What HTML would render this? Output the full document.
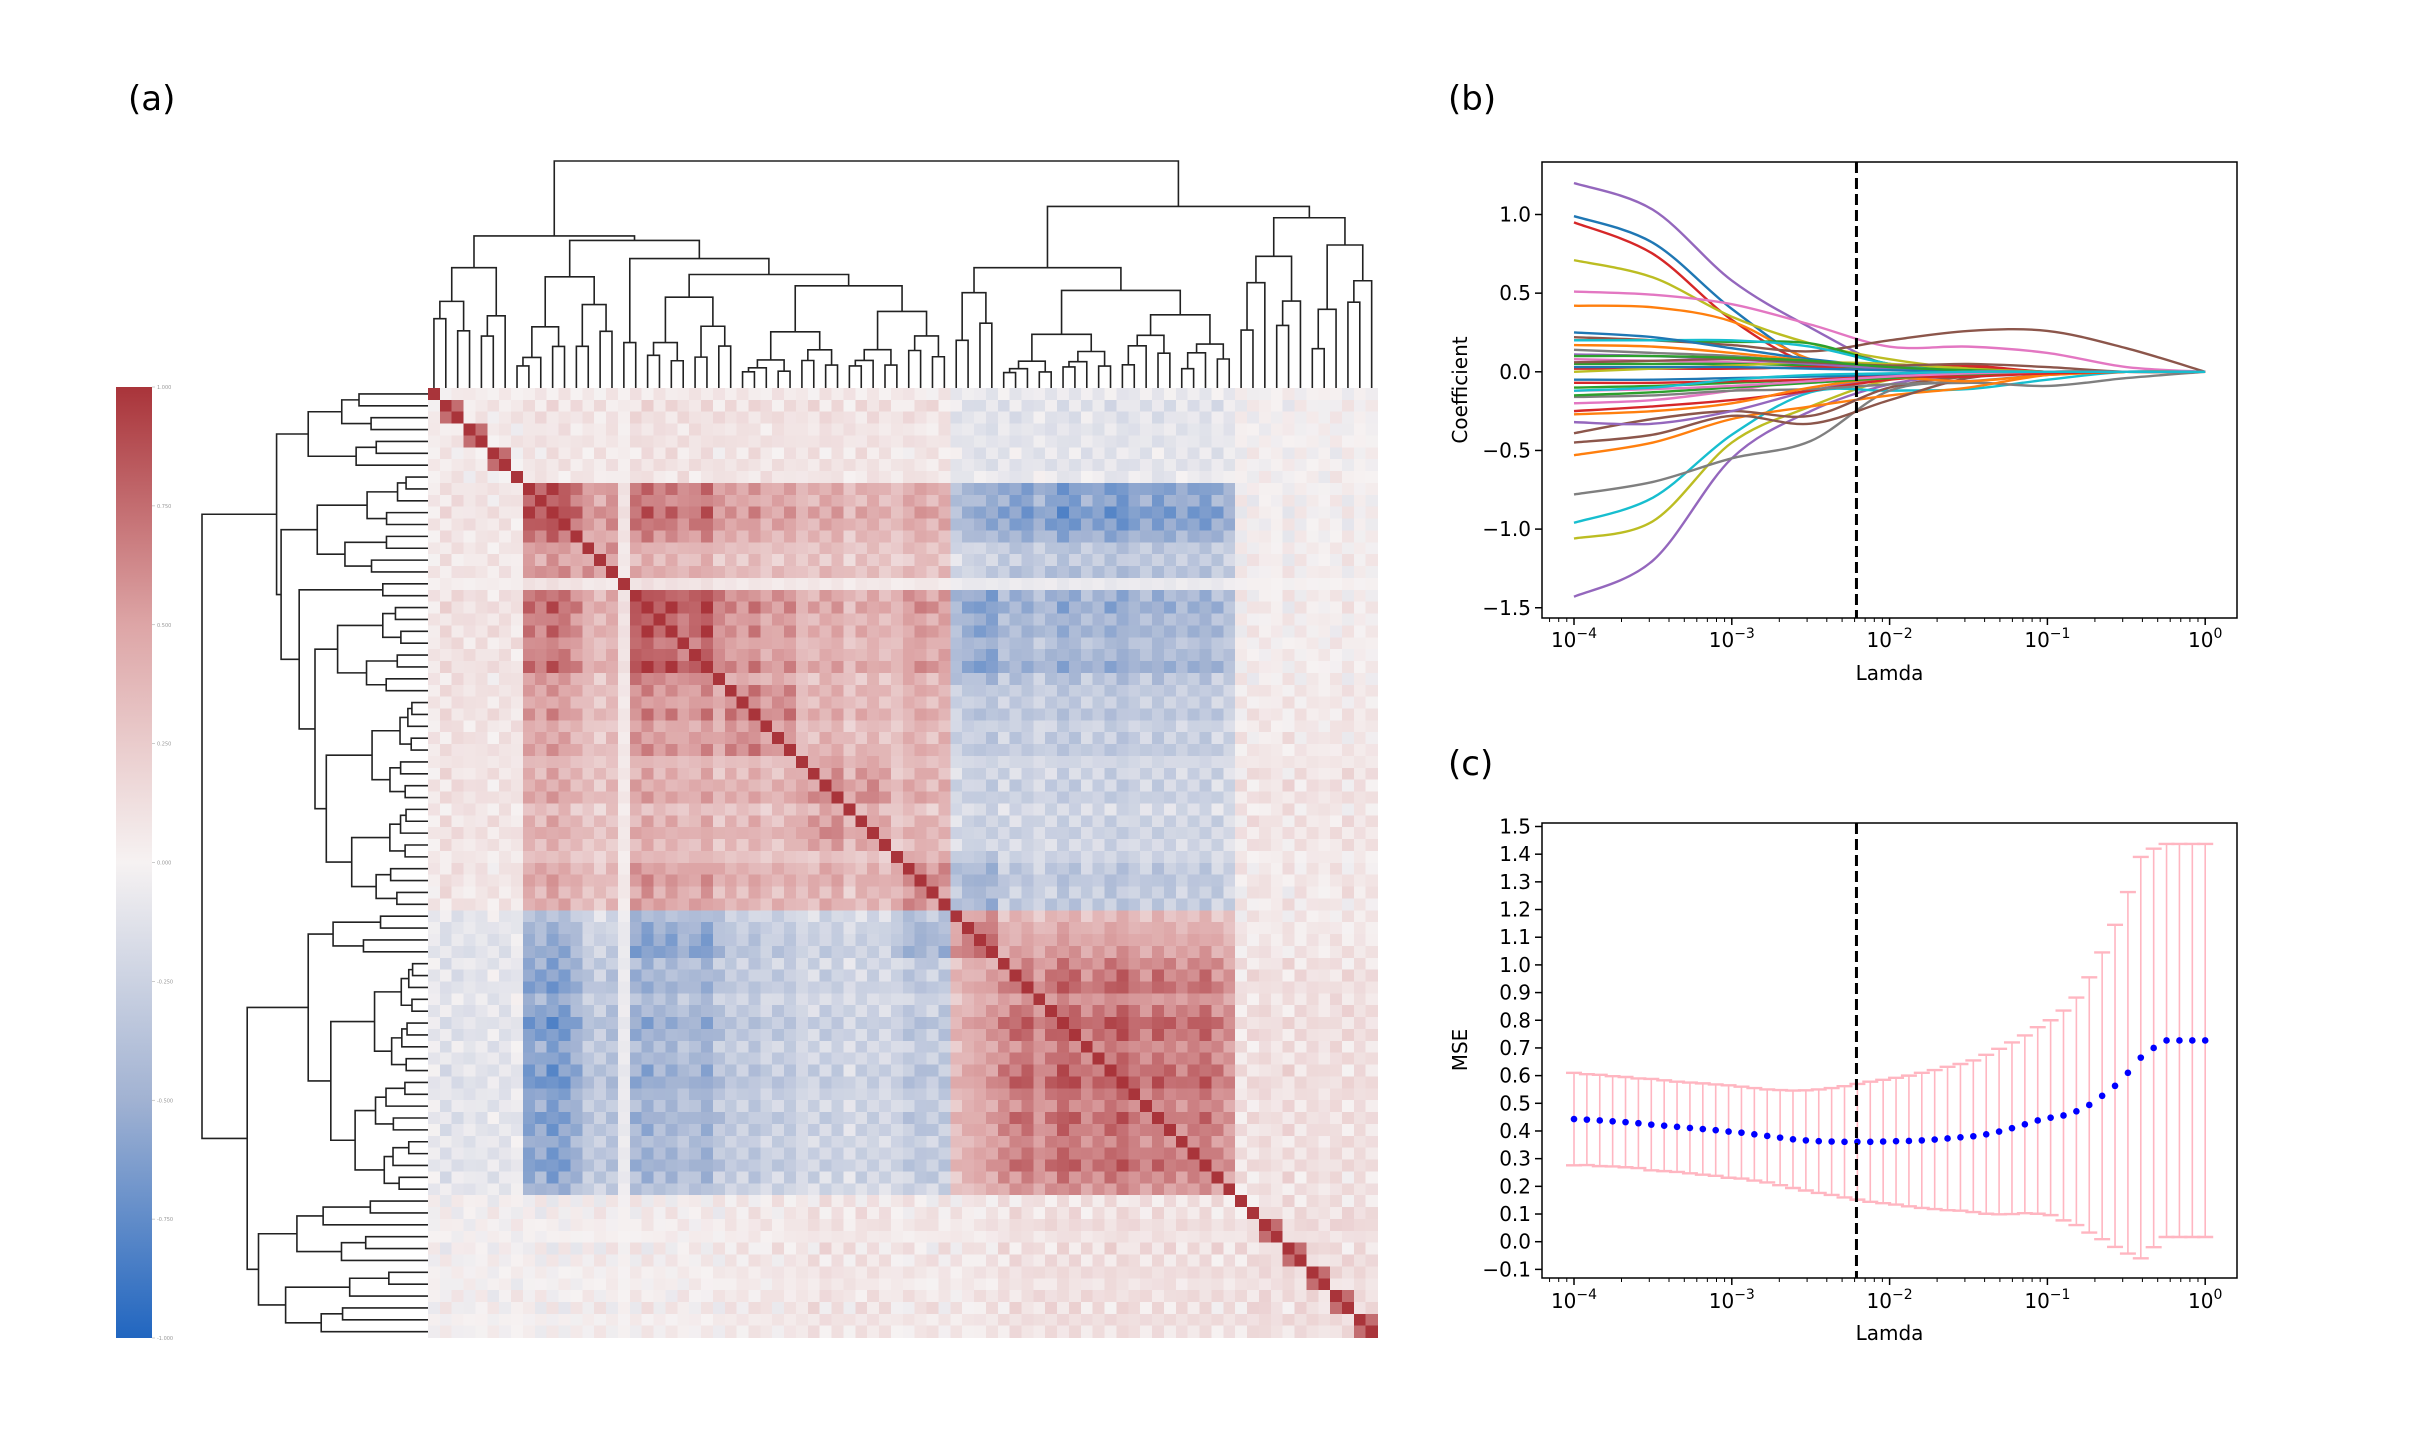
<!DOCTYPE html>
<html><head><meta charset="utf-8"><style>
html,body{margin:0;padding:0;background:#fff;}
svg{display:block;font-family:"DejaVu Sans","Liberation Sans",sans-serif;}
</style></head><body>
<svg id="fig" xmlns="http://www.w3.org/2000/svg" width="2413" height="1432" viewBox="0 0 2413 1432">
<rect x="0" y="0" width="2413" height="1432" fill="#fff"/>
<defs>
<linearGradient id="cbar" x1="0" y1="0" x2="0" y2="1">
<stop offset="0" stop-color="#a9343a"/><stop offset="0.25" stop-color="#dda5a6"/><stop offset="0.5" stop-color="#f6f2f2"/><stop offset="0.75" stop-color="#a1b2d2"/><stop offset="1" stop-color="#2166c0"/>
</linearGradient>
<clipPath id="clipB"><rect x="1542" y="162" width="695" height="456"/></clipPath>
<clipPath id="clipC"><rect x="1542" y="823" width="695" height="455"/></clipPath>
</defs>
<text x="128" y="110" font-size="34">(a)</text>
<text x="1448" y="110" font-size="34">(b)</text>
<text x="1448" y="775" font-size="34">(c)</text>
<g id="heat"></g>
<g id="dendTop"></g>
<g id="dendLeft"></g>
<g id="cb">
<rect x="116" y="387" width="36" height="951" fill="url(#cbar)"/>
</g>
<g id="panelB"></g>
<g id="panelC"></g>
</svg>
<script>
// ---------- heatmap data ----------
const groupNames = ['M','A1','A2','A0','A3','A4','A5','A6','B1','B2','C'];
const groupStarts = [0,8,13,16,17,25,31,39,44,48,68];
const groupEnds   = [8,13,16,17,25,31,39,44,48,68,80];
const blockM  = [0.06,0.08,0.08,0.05,0.1,0.1,0.1,0.08,-0.1,-0.1,0.0];
const blockA1 = [0.08,0.6,0.45,0.15,0.5,0.4,0.35,0.35,-0.35,-0.45,0.0];
const blockA2 = [0.08,0.45,0.55,0.1,0.35,0.3,0.3,0.3,-0.2,-0.3,0.02];
const blockA0 = [0.05,0.15,0.1,0.5,0.15,0.1,0.1,0.08,-0.1,-0.1,0.0];
const blockA3 = [0.1,0.5,0.35,0.15,0.6,0.45,0.35,0.4,-0.4,-0.35,0.02];
const blockA4 = [0.1,0.4,0.3,0.1,0.45,0.55,0.35,0.35,-0.25,-0.25,0.05];
const blockA5 = [0.1,0.35,0.3,0.1,0.35,0.35,0.5,0.35,-0.2,-0.2,0.08];
const blockA6 = [0.08,0.35,0.3,0.08,0.4,0.35,0.35,0.5,-0.35,-0.25,0.05];
const blockB1 = [-0.1,-0.35,-0.2,-0.1,-0.4,-0.25,-0.2,-0.35,0.5,0.35,0.05];
const blockB2 = [-0.1,-0.45,-0.3,-0.1,-0.35,-0.25,-0.2,-0.25,0.35,0.55,0.1];
const blockC  = [0.0,0.0,0.02,0.0,0.02,0.05,0.08,0.05,0.05,0.1,0.12];
const strength = [0.6,1.1,1.1,0.9,1.0,0.8,1.0,0.7,1.2,1.1,1.3,1.2,1.0,1.0,0.9,1.1,0.6,1.2,1.3,1.1,1.2,1.0,1.1,1.3,0.9,1.1,1.0,1.2,0.9,1.0,1.1,0.9,1.0,1.1,1.2,0.8,1.0,1.1,0.9,0.8,1.1,1.2,1.0,1.1,0.9,1.1,1.2,1.3,1.0,1.1,1.2,0.9,1.1,1.3,1.2,1.0,1.1,1.2,1.3,1.1,1.0,1.2,1.1,1.0,1.1,1.2,1.0,0.9,0.8,1.0,1.2,0.9,1.1,1.0,1.2,0.9,1.1,1.0,1.2,0.9];
const texture = [0.3,-0.6,0.8,-0.2,0.5,-0.9,0.1,0.7,-0.4,0.9,-0.7,0.2,-0.3,0.6,-0.8,0.4,-0.1,0.8,-0.5,0.3,-0.9,0.6,0.0,-0.6,0.9,-0.3,0.5,-0.8,0.2,0.7,-0.4,0.1,-0.7,0.8,-0.2,0.4,-0.9,0.6,-0.5,0.3,0.9,-0.1,-0.6,0.5,-0.8,0.2,0.7,-0.3,0.6,-0.9,0.1,0.8,-0.4,0.3,-0.7,0.9,-0.2,0.5,-0.6,0.0,0.7,-0.8,0.4,-0.1,0.6,-0.5,0.9,-0.3,0.8,-0.9,0.2,-0.4,0.7,-0.6,0.5,-0.2,0.9,-0.7,0.3,-0.5];
const texture2 = [-0.5,0.7,0.2,-0.8,0.4,0.1,-0.6,0.9,0.3,-0.2,0.6,-0.9,0.8,-0.1,0.5,-0.7,0.2,-0.4,0.9,-0.6,0.1,0.7,-0.8,0.4,-0.3,0.6,-0.5,0.2,0.9,-0.7,0.3,-0.1,0.8,-0.6,0.5,-0.9,0.4,0.0,0.7,-0.4,-0.2,0.6,0.9,-0.8,0.3,-0.5,0.1,0.8,-0.7,0.4,-0.3,0.2,0.9,-0.6,0.5,-0.1,0.7,-0.9,0.3,0.6,-0.4,0.1,-0.8,0.9,-0.2,0.4,-0.6,0.7,-0.5,0.2,0.8,-0.3,-0.9,0.6,0.1,-0.7,0.4,0.9,-0.2,0.5];
const pairRows = [1,3,5,70,72,74,76,78];
const cmapVals = [-1,-0.5,0,0.5,1];
const cmapCols = [[33,102,192],[161,178,210],[246,242,242],[221,165,166],[169,52,58]];
const cbTicks = ['1.000','0.750','0.500','0.250','0.000','-0.250','-0.500','-0.750','-1.000'];

// ---------- dendrogram spec ----------
const treeSplits = [[0,80,44],[0,44,7],[44,80,68],[7,44,16],[16,44,18],[18,44,26],[44,68,48],[68,80,74]];
const treeHeightKeys = ['0-80','0-44','44-80','0-7','7-44','44-68','68-80','7-16','16-44','16-18','18-44','18-26','26-44','44-48','48-68','68-74','74-80'];
const treeHeightVals = [1,0.67,0.8,0.53,0.65,0.53,0.75,0.49,0.57,0.2,0.5,0.4,0.45,0.42,0.43,0.58,0.63];
const heightFactors = [0.72,0.6,0.8,0.66,0.55,0.75,0.5,0.68];

// ---------- panel b data ----------
const lamLogs = [-4,-3.5,-3,-2.5,-2,-1.5,-1,-0.5,0];
const cPurpleTop = [1.2,1.03,0.58,0.28,0.04,0.01,0,0,0];
const cBlueTop = [0.99,0.82,0.4,0.07,0.02,0,0,0,0];
const cRedTop = [0.95,0.75,0.33,0.05,0.02,0.03,0,0,0];
const cOliveTop = [0.71,0.6,0.35,0.18,0.08,0.02,0,0,0];
const cPinkTop = [0.51,0.49,0.43,0.3,0.16,0.16,0.12,0.03,0];
const cOrangeTop = [0.42,0.41,0.32,0.08,0.02,0,0,0,0];
const cBrownRise = [0.22,0.2,0.17,0.13,0.2,0.26,0.26,0.15,0];
const cGreenPos = [0.2,0.2,0.19,0.18,0.05,0.02,0,0,0];
const cCyanPos = [0.2,0.2,0.2,0.16,0.05,0,0,0,0];
const cBluePos = [0.25,0.22,0.15,0.08,0.03,0,0,0,0];
const cGrayPos = [0.14,0.12,0.1,0.06,0.03,0.01,0,0,0];
const cPinkPos = [0.08,0.07,0.06,0.04,0.02,0,0,0,0];
const cGreenPos2 = [0.05,0.05,0.05,0.04,0.02,0.01,0,0,0];
const cRedPos = [0.02,0.02,0.02,0.03,0.04,0.04,0,0,0];
const cOlivePos = [0.0,0.02,0.04,0.06,0.05,0.02,0,0,0];
const cOrangePos2 = [0.17,0.16,0.12,0.07,0.03,0,0,0,0];
const cPurplePos = [0.11,0.1,0.08,0.05,0.02,0,0,0,0];
const cBrownPos = [0.06,0.07,0.08,0.06,0.04,0.05,0.03,0,0];
const cBluePos2 = [0.03,0.03,0.03,0.02,0.01,0,0,0,0];
const cGreenPos3 = [0.1,0.1,0.09,0.07,0.03,0.01,0,0,0];
const cPurpleNeg = [-1.43,-1.2,-0.55,-0.25,-0.08,-0.02,0,0,0];
const cOliveNeg = [-1.06,-0.95,-0.45,-0.22,-0.05,0,0,0,0];
const cCyanNeg = [-0.96,-0.8,-0.4,-0.13,-0.12,-0.11,-0.05,0,0];
const cGrayNeg = [-0.78,-0.7,-0.55,-0.44,-0.12,-0.07,-0.09,-0.04,0];
const cOrangeNeg = [-0.53,-0.45,-0.3,-0.22,-0.15,-0.1,-0.02,0,0];
const cBrownNeg = [-0.45,-0.4,-0.28,-0.33,-0.18,-0.04,-0.01,0,0];
const cBrownNeg2 = [-0.39,-0.3,-0.25,-0.28,-0.1,-0.03,0,0,0];
const cPurpleNeg2 = [-0.32,-0.33,-0.25,-0.12,-0.04,0,0,0,0];
const cRedNeg = [-0.25,-0.22,-0.18,-0.12,-0.05,-0.02,0,0,0];
const cPinkNeg = [-0.2,-0.18,-0.12,-0.05,-0.02,0,0,0,0];
const cGrayNeg2 = [-0.16,-0.15,-0.12,-0.11,-0.08,-0.06,-0.02,0,0];
const cGreenNeg = [-0.1,-0.09,-0.07,-0.05,-0.03,-0.01,0,0,0];
const cBlueNeg = [-0.05,-0.05,-0.04,-0.03,-0.02,0,0,0,0];
const cOrangeNeg2 = [-0.27,-0.25,-0.2,-0.1,-0.04,-0.06,-0.02,0,0];
const cGreenNeg2 = [-0.15,-0.13,-0.1,-0.07,-0.04,-0.02,0,0,0];
const cRedNeg2 = [-0.07,-0.07,-0.06,-0.05,-0.03,-0.03,-0.01,0,0];
const cPinkNeg2 = [-0.12,-0.11,-0.09,-0.06,-0.03,-0.01,0,0,0];
const cCyanZero = [-0.12,-0.1,-0.05,-0.02,-0.01,0,0,0,0];
const coefSeries = [cPurpleTop,cBlueTop,cRedTop,cOliveTop,cPinkTop,cOrangeTop,cBrownRise,cGreenPos,cCyanPos,cBluePos,cGrayPos,cPinkPos,cGreenPos2,cRedPos,cOlivePos,cOrangePos2,cPurplePos,cBrownPos,cBluePos2,cGreenPos3,cPurpleNeg,cOliveNeg,cCyanNeg,cGrayNeg,cOrangeNeg,cBrownNeg,cBrownNeg2,cPurpleNeg2,cRedNeg,cPinkNeg,cGrayNeg2,cGreenNeg,cBlueNeg,cOrangeNeg2,cGreenNeg2,cRedNeg2,cPinkNeg2,cCyanZero];
const coefColors = ['#9467bd','#1f77b4','#d62728','#bcbd22','#e377c2','#ff7f0e','#8c564b','#2ca02c','#17becf','#1f77b4','#7f7f7f','#e377c2','#2ca02c','#d62728','#bcbd22','#ff7f0e','#9467bd','#8c564b','#1f77b4','#2ca02c','#9467bd','#bcbd22','#17becf','#7f7f7f','#ff7f0e','#8c564b','#8c564b','#9467bd','#d62728','#e377c2','#7f7f7f','#2ca02c','#1f77b4','#ff7f0e','#2ca02c','#d62728','#e377c2','#17becf'];
const bYTicks = [1.0,0.5,0.0,-0.5,-1.0,-1.5];
const xDecades = [-4,-3,-2,-1,0];
const selectedLogLambda = -2.21;

// ---------- panel c data ----------
const mseMean = [.443,.441,.438,.435,.432,.428,.423,.419,.415,.411,.407,.403,.398,.394,.388,.382,.376,.370,.366,.363,.362,.361,.361,.361,.362,.363,.364,.366,.369,.373,.377,.381,.388,.398,.410,.424,.438,.448,.456,.471,.494,.527,.563,.610,.665,.700,.727,.727,.727,.727];
const mseUpper = [.61,.605,.603,.598,.595,.59,.588,.583,.578,.575,.572,.568,.565,.56,.555,.55,.548,.546,.547,.55,.555,.562,.57,.578,.585,.592,.60,.61,.62,.632,.642,.655,.675,.697,.72,.745,.775,.80,.835,.882,.955,1.045,1.145,1.263,1.39,1.42,1.437,1.437,1.437,1.437];
const cYTicks = [-0.1,0.0,0.1,0.2,0.3,0.4,0.5,0.6,0.7,0.8,0.9,1.0,1.1,1.2,1.3,1.4,1.5];

const NS='http://www.w3.org/2000/svg';
function mk(tag, attrs, parent){const e=document.createElementNS(NS,tag);for(const k in attrs)e.setAttribute(k,attrs[k]);parent.appendChild(e);return e;}

// ---------- heatmap ----------
const HX=428, HY=388, CELL=11.87, N=80;
const blocks=[blockM,blockA1,blockA2,blockA0,blockA3,blockA4,blockA5,blockA6,blockB1,blockB2,blockC];
function groupOf(i){for(let g=0;g<groupStarts.length;g++){if(i>=groupStarts[g]&&i<groupEnds[g])return g;}return 0;}
function cmap(v){v=Math.max(-1,Math.min(1,v));for(let k=0;k<cmapVals.length-1;k++){if(v<=cmapVals[k+1]){const t=(v-cmapVals[k])/(cmapVals[k+1]-cmapVals[k]);const a=cmapCols[k],b=cmapCols[k+1];return 'rgb('+[0,1,2].map(c=>Math.round(a[c]+(b[c]-a[c])*t)).join(',')+')';}}return 'rgb(169,52,58)';}
const heat=document.getElementById('heat');
for(let i=0;i<N;i++){for(let j=0;j<N;j++){
  let v;
  if(i===j) v=1;
  else {
    v = blocks[groupOf(i)][groupOf(j)]*strength[i]*strength[j] + 0.12*texture[i]*texture[j] + 0.1*texture2[i]*texture2[j];
    const lo=Math.min(i,j), hi=Math.max(i,j);
    if(hi-lo===1 && pairRows.indexOf(lo)>=0) v=0.75;
  }
  const r=mk('rect',{x:HX+j*CELL,y:HY+i*CELL,width:CELL+0.5,height:CELL+0.5,fill:cmap(v),'shape-rendering':'crispEdges'},heat);
  
  
}}

// ---------- colorbar ticks ----------
const cb=document.getElementById('cb');
cbTicks.forEach((t,k)=>{const y=387+k*951/(cbTicks.length-1);
  mk('line',{x1:152,x2:155,y1:y,y2:y,stroke:'#aaa','stroke-width':0.6},cb);
  const tx=mk('text',{x:157,y:y+2,'font-size':5,fill:'#999'},cb);tx.textContent=t;
  
  
});

// ---------- dendrograms ----------
const hMap={};treeHeightKeys.forEach((k,i)=>hMap[k]=treeHeightVals[i]);
const sMap={};treeSplits.forEach(s=>sMap[s[0]+'-'+s[1]]=s[2]);
let fc=0;
function build(lo,hi,h){
  if(hi-lo===1)return {pos:lo+0.5,h:0,leaf:true};
  const key=lo+'-'+hi;
  const hh = (key in hMap)?hMap[key]:h;
  const sp = (key in sMap)?sMap[key]:lo+Math.ceil((hi-lo)/2);
  const ch1 = hMap[lo+'-'+sp]!==undefined?hMap[lo+'-'+sp]:hh*heightFactors[(fc++)%heightFactors.length];
  const ch2 = hMap[sp+'-'+hi]!==undefined?hMap[sp+'-'+hi]:hh*heightFactors[(fc++)%heightFactors.length];
  const a=build(lo,sp,ch1), b=build(sp,hi,ch2);
  return {pos:(a.pos+b.pos)/2,h:hh,a:a,b:b};
}
const tree=build(0,80,1);
function drawTree(node,g,orient){
  if(node.leaf)return;
  const A=node.a,B=node.b;let d;
  if(orient==='top'){
    const Y=h=>HY-h*(HY-161), X=p=>HX+p*CELL;
    d='M'+X(A.pos)+' '+Y(A.h)+'V'+Y(node.h)+'H'+X(B.pos)+'V'+Y(B.h);
  }else{
    const Xf=h=>HX-h*(HX-202), Yf=p=>HY+p*CELL;
    d='M'+Xf(A.h)+' '+Yf(A.pos)+'H'+Xf(node.h)+'V'+Yf(B.pos)+'H'+Xf(B.h);
  }
  const p=mk('path',{d:d,fill:'none',stroke:'#222','stroke-width':1.6},g);
  
  
  drawTree(A,g,orient);drawTree(B,g,orient);
}
drawTree(tree,document.getElementById('dendTop'),'top');
drawTree(tree,document.getElementById('dendLeft'),'left');

// ---------- shared axis helpers ----------
const AX0=1542, AX1=2237;
const xS=l=>1574+(l+4)*157.8;
function fmt(v){const s=Math.abs(v).toFixed(1);return (v<-1e-9?'\u2212':'')+s;}
function drawXAxis(g,yBot,yLab,yTitle){
  xDecades.forEach(d=>{const x=xS(d);
    mk('line',{x1:x,x2:x,y1:yBot,y2:yBot+7,stroke:'#000','stroke-width':1.5},g);
    const t=mk('text',{x:x,y:yLab,'font-size':20,'text-anchor':'middle'},g);
    
    
    t.appendChild(document.createTextNode('10'));
    const s=mk('tspan',{dy:-9,'font-size':14},t);s.textContent=(d<0?'\u2212':'')+Math.abs(d);
  });
  for(let d=-5;d<=0;d++){for(let k=2;k<=9;k++){const l=d+Math.log10(k);if(l<-4.2||l>0.2)continue;const x=xS(l);
    mk('line',{x1:x,x2:x,y1:yBot,y2:yBot+4,stroke:'#000','stroke-width':1},g);}}
  const t=mk('text',{x:(AX0+AX1)/2,y:yTitle,'font-size':20,'text-anchor':'middle'},g);t.textContent='Lamda';
  
  
}
function smoothPath(pts){let d='M'+pts[0][0]+' '+pts[0][1];
  for(let i=0;i<pts.length-1;i++){const p0=pts[Math.max(0,i-1)],p1=pts[i],p2=pts[i+1],p3=pts[Math.min(pts.length-1,i+2)];
    const c1=[p1[0]+(p2[0]-p0[0])/6,p1[1]+(p2[1]-p0[1])/6],c2=[p2[0]-(p3[0]-p1[0])/6,p2[1]-(p3[1]-p1[1])/6];
    d+='C'+c1[0]+' '+c1[1]+' '+c2[0]+' '+c2[1]+' '+p2[0]+' '+p2[1];}
  return d;}

// ---------- panel b ----------
(function(){
  const g=document.getElementById('panelB');
  const yS=v=>371.8-v*157.3;
  const lines=mk('g',{'clip-path':'url(#clipB)'},g);
  coefSeries.forEach((s,i)=>{
    const pts=s.map((v,k)=>[xS(lamLogs[k]),yS(v)]);
    const p=mk('path',{d:smoothPath(pts),fill:'none',stroke:coefColors[i],'stroke-width':2.4},lines);
    
    
  });
  const dl=mk('line',{x1:xS(selectedLogLambda),x2:xS(selectedLogLambda),y1:162,y2:618,stroke:'#000','stroke-width':3,'stroke-dasharray':'11,5'},g);
  
  
  mk('rect',{x:AX0,y:162,width:AX1-AX0,height:456,fill:'none',stroke:'#000','stroke-width':1.5},g);
  bYTicks.forEach(v=>{const y=yS(v);
    mk('line',{x1:AX0-7,x2:AX0,y1:y,y2:y,stroke:'#000','stroke-width':1.5},g);
    const t=mk('text',{x:AX0-11,y:y+7,'font-size':20,'text-anchor':'end'},g);t.textContent=fmt(v);
    
    
  });
  drawXAxis(g,618,647,680);
  const t=mk('text',{x:1467,y:390,'font-size':20,'text-anchor':'middle',transform:'rotate(-90 1467 390)'},g);t.textContent='Coefficient';
  
  
})();

// ---------- panel c ----------
(function(){
  const g=document.getElementById('panelC');
  const yS=v=>1241.7-v*276.8;
  const n=mseMean.length;
  const lx=i=>-4+4*i/(n-1);
  const eb=mk('g',{'clip-path':'url(#clipC)'},g);
  mseMean.forEach((m,i)=>{
    const x=xS(lx(i)), e=mseUpper[i]-m, yu=yS(m+e), yl=yS(m-e);
    const l=mk('line',{x1:x,x2:x,y1:yu,y2:yl,stroke:'#ffb6c1','stroke-width':1.6},eb);
    
    
    mk('line',{x1:x-8,x2:x+8,y1:yu,y2:yu,stroke:'#ffb6c1','stroke-width':2.4},eb);
    mk('line',{x1:x-8,x2:x+8,y1:yl,y2:yl,stroke:'#ffb6c1','stroke-width':2.4},eb);
  });
  mseMean.forEach((m,i)=>{
    const c=mk('circle',{cx:xS(lx(i)),cy:yS(m),r:3.3,fill:'#0000ff'},g);
    
    
  });
  const dl=mk('line',{x1:xS(selectedLogLambda),x2:xS(selectedLogLambda),y1:823,y2:1278,stroke:'#000','stroke-width':3,'stroke-dasharray':'11,5'},g);
  
  
  mk('rect',{x:AX0,y:823,width:AX1-AX0,height:455,fill:'none',stroke:'#000','stroke-width':1.5},g);
  cYTicks.forEach(v=>{const y=yS(v);
    mk('line',{x1:AX0-7,x2:AX0,y1:y,y2:y,stroke:'#000','stroke-width':1.5},g);
    const t=mk('text',{x:AX0-11,y:y+7,'font-size':20,'text-anchor':'end'},g);t.textContent=fmt(v);
    
    
  });
  drawXAxis(g,1278,1308,1340);
  const t=mk('text',{x:1467,y:1050,'font-size':20,'text-anchor':'middle',transform:'rotate(-90 1467 1050)'},g);t.textContent='MSE';
  
  
})();
</script>
</body></html>
